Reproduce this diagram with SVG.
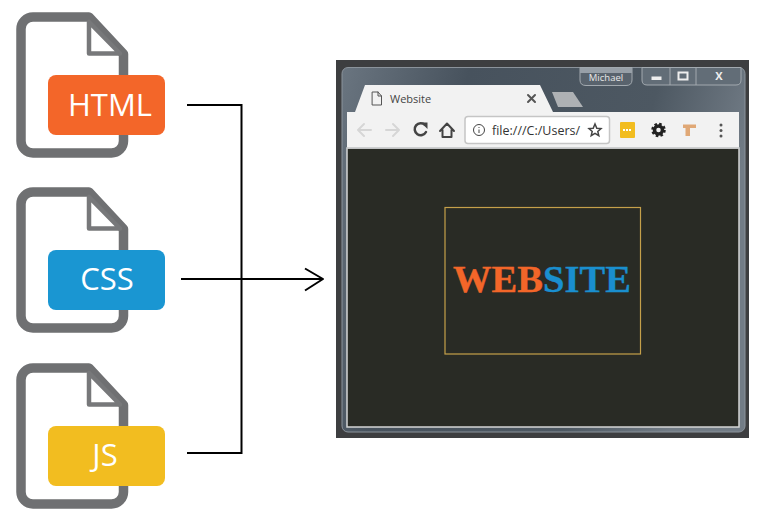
<svg xmlns="http://www.w3.org/2000/svg" width="765" height="523" viewBox="0 0 765 523">
<style>
.file{fill:#fff;stroke:#6f7072;stroke-width:9.5;stroke-linejoin:round}
.fold{fill:#fff;stroke:#77787a;stroke-width:4.500;stroke-linejoin:round}
.badge-label{font-family:"Open Sans","Noto Sans",sans-serif;font-size:31px;fill:#fff;text-anchor:middle}
.conn{fill:none;stroke:#000;stroke-width:2}
.ui{font-family:"Open Sans","Noto Sans",sans-serif}
.glyph{fill:none;stroke-width:2;stroke-linecap:round;stroke-linejoin:round}
</style>
<defs>
<linearGradient id="frame" x1="0" y1="0" x2="1" y2="0.25">
<stop offset="0" stop-color="#6a7580"/><stop offset="0.3" stop-color="#47525d"/><stop offset="0.75" stop-color="#4d5862"/><stop offset="1" stop-color="#727c86"/>
</linearGradient>
<g id="doc">
<path class="file" d="M33 17H89L123.500 54V141A12 12 0 0 1 111.500 153H33A12 12 0 0 1 21 141V29A12 12 0 0 1 33 17Z"/>
<path class="fold" d="M89 22V53.500H120Z"/>
</g>
</defs>
<rect width="765" height="523" fill="#fff"/>

<g id="connectors">
<path class="conn" d="M187 105H241.500V453H187"/>
<path class="conn" d="M181 279H323"/>
<path class="conn" stroke-linejoin="round" d="M305 268.500L323 279L305 290.500"/>
</g>

<g id="html-file">
<use href="#doc"/>
<rect x="48" y="75" width="117" height="60" rx="8" fill="#f36629"/>
<text class="badge-label" x="110" y="116">HTML</text>
</g>
<g id="css-file">
<use href="#doc" y="175"/>
<rect x="48" y="250" width="117" height="60" rx="8" fill="#1a96d2"/>
<text class="badge-label" x="107" y="290">CSS</text>
</g>
<g id="js-file">
<use href="#doc" y="351"/>
<rect x="48" y="426" width="117" height="60" rx="8" fill="#f2bd20"/>
<text class="badge-label" x="105" y="466">JS</text>
</g>

<g id="browser-window">
<rect x="336" y="60" width="413" height="378" fill="#3d3e40"/>
<rect x="342" y="67.500" width="403" height="364.500" rx="6" fill="url(#frame)" stroke="#8b939b"/>
<path d="M347 112H355L365 85H540L553 112H739V148H347Z" fill="#f2f2f2"/>
<path d="M552 92H573L583 107H558Z" fill="#aeb1b4"/>
<rect x="347" y="148" width="392" height="279" fill="#292b25" stroke="#d5d6d6" stroke-width="1.500"/>
<path d="M347 148H739" stroke="#c9cacb" stroke-width="1.500"/>

<path d="M580 67.500H632V80Q632 85.500 626 85.500H586Q580 85.500 580 80Z" fill="#59636d" stroke="#a2a9af"/>
<rect x="580" y="68" width="52" height="5" fill="#98a0a8"/>
<text class="ui" x="606" y="80.500" font-size="9.500" fill="#e8e8e8" text-anchor="middle">Michael</text>
<path d="M642 67.500H741V80Q741 85 736 85H647Q642 85 642 80Z" fill="#626d77" stroke="#a2a9af"/>
<path d="M670 67.500V85M696 67.500V85" stroke="#a2a9af"/>
<rect x="651.500" y="76.500" width="10" height="3.500" fill="#eee"/>
<rect x="678.500" y="72.500" width="9" height="7" fill="none" stroke="#eee" stroke-width="2"/>
<text class="ui" x="719" y="80" font-size="11" font-weight="700" fill="#eee" text-anchor="middle">X</text>

<path class="glyph" stroke="#555" d="M372.500 92H378L381.500 96V105H372.500ZM378 92V96H381.500" style="stroke-width:1"/>
<text class="ui" x="390" y="103" font-size="11" fill="#444">Website</text>
<path class="glyph" stroke="#555" d="M528 95L535 102M535 95L528 102"/>

<path class="glyph" stroke="#d6d6d6" d="M358 130H371M364 124L358 130L364 136"/>
<path class="glyph" stroke="#d6d6d6" d="M386 130H399M393 124L399 130L393 136"/>
<path class="glyph" stroke="#444" d="M425 125A6 6 0 1 0 426 132" style="stroke-width:2.500"/>
<path d="M421 122.500L427.500 122.500L427.500 129Z" fill="#444"/>
<path class="glyph" stroke="#444" d="M440 131L447 123.500L454 131M442.500 130V137H451.500V130"/>
<rect x="465" y="116.500" width="144.500" height="27" rx="3" fill="#fff" stroke="#c5c5c5" stroke-width="1.500"/>
<circle cx="479" cy="130" r="5.500" fill="none" stroke="#444"/>
<path d="M479 129.500V133M479 127V128" stroke="#444"/>
<text class="ui" x="492" y="134.500" font-size="12.500" fill="#333">file:///C:/Users/</text>
<path d="M595 124L596.800 128.200L601 128.600L597.800 131.400L598.800 135.700L595 133.300L591.200 135.700L592.200 131.400L589 128.600L593.200 128.200Z" fill="none" stroke="#444" stroke-width="1.500"/>
<rect x="620" y="122" width="15" height="16" rx="1" fill="#f2bd20"/>
<path d="M623 130H632" stroke="#fff" stroke-width="2" stroke-dasharray="2 1"/>
<circle cx="658.500" cy="130" r="4" fill="none" stroke="#222" stroke-width="3.500"/>
<circle cx="658.500" cy="130" r="6" fill="none" stroke="#222" stroke-width="2.500" stroke-dasharray="2.500 2.200"/>
<path d="M683 124.500H696V128H690V136H685.500V128H683Z" fill="#e0a876"/>
<circle cx="721" cy="125" r="1.500" fill="#555"/><circle cx="721" cy="130.500" r="1.500" fill="#555"/><circle cx="721" cy="136" r="1.500" fill="#555"/>

<rect x="445" y="207.500" width="195.500" height="146.500" fill="none" stroke="#c5a04a" stroke-width="1.200"/>
<text x="453" y="292" font-family="'Liberation Serif',serif" font-weight="700" font-size="38.500" stroke-width="0.400" stroke="currentColor" textLength="178" lengthAdjust="spacing"><tspan fill="#f36629" stroke="#f36629">WEB</tspan><tspan fill="#1a8fcf" stroke="#1a8fcf">SITE</tspan></text>
</g>
</svg>
